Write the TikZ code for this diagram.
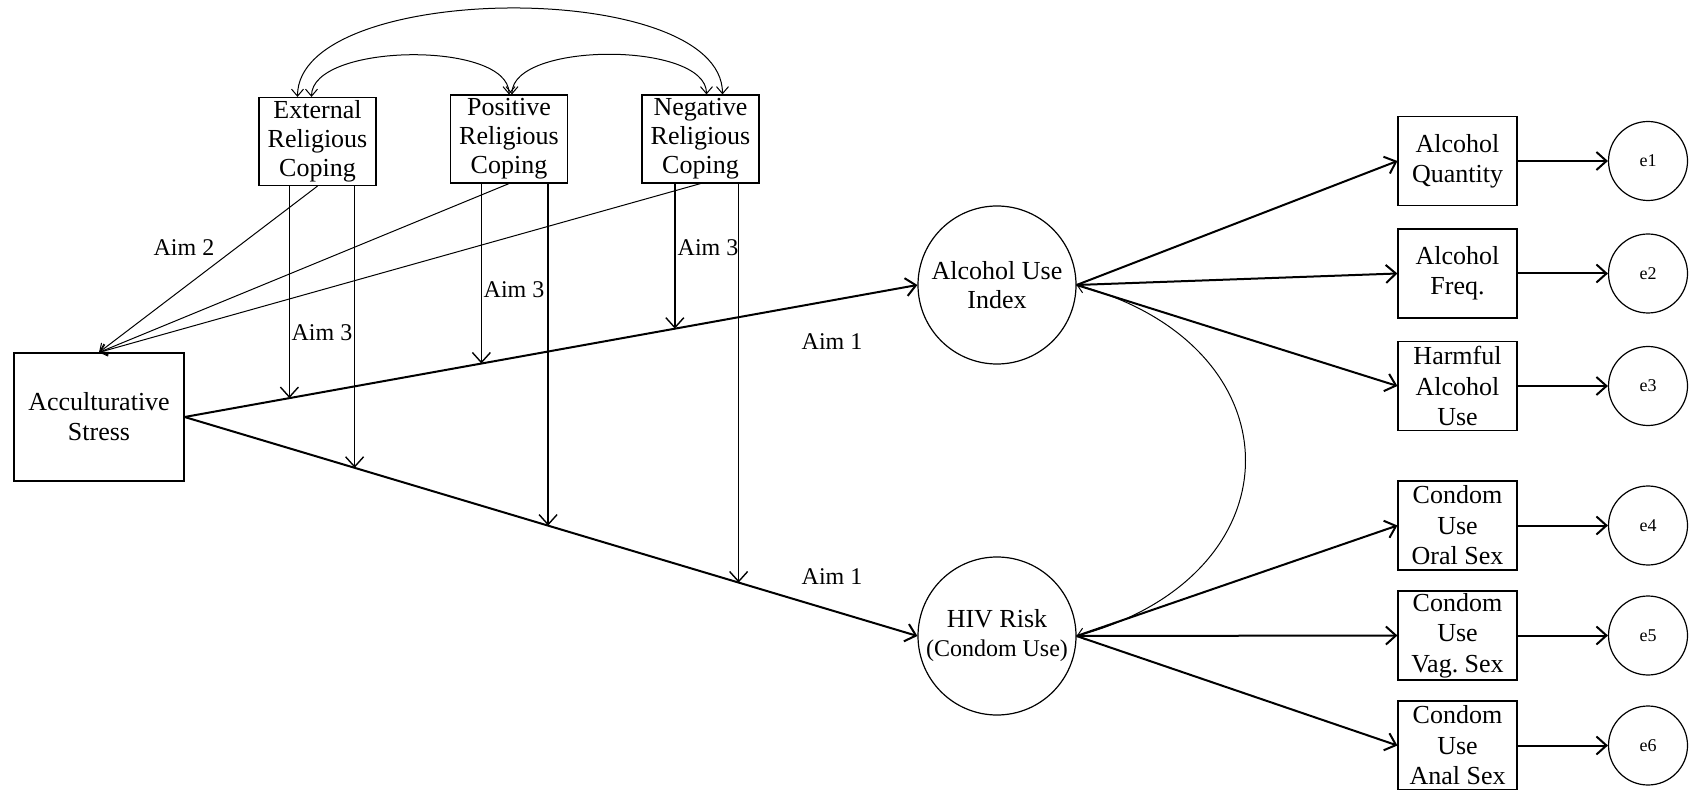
\documentclass[tikz,border=0pt]{standalone}
\usepackage{fontspec}
\setmainfont{Liberation Serif}
\usetikzlibrary{arrows.meta,calc}
\frenchspacing
\tikzstyle{obs}=[rectangle,draw,line width=0.6pt,align=center,inner sep=1pt,font=\fontsize{13}{14.5}\selectfont]
\tikzstyle{coping}=[obs,minimum width=58.5pt,minimum height=44pt]
\tikzstyle{indicator}=[obs,minimum width=59.5pt,minimum height=44.5pt,font=\fontsize{13}{15.2}\selectfont]
\tikzstyle{latent}=[circle,draw,line width=0.6pt,minimum size=79pt,inner sep=0pt,align=center,font=\fontsize{13}{14.5}\selectfont]
\tikzstyle{err}=[circle,draw,line width=0.6pt,minimum size=39.5pt,inner sep=0pt,font=\fontsize{9}{10}\selectfont]
\tikzstyle{edge} = [draw,line width=1pt,-{Straight Barb[length=5pt,width=9pt]}]
\tikzstyle{modedge} = [draw,line width=0.7pt,-{Straight Barb[length=5pt,width=9pt]}]
\tikzstyle{thinedge} = [draw,line width=0.5pt,-{Straight Barb[length=3.5pt,width=6pt]}]
\tikzstyle{covedge} = [draw,line width=0.5pt,{Straight Barb[length=3.5pt,width=6pt]}-{Straight Barb[length=3.5pt,width=6pt]}]
\tikzstyle{weight} = [font=\fontsize{12}{14}\selectfont]

\begin{document}
\begin{tikzpicture}[x=0.5pt, y=0.5pt]
    \useasboundingbox (0,0) rectangle (1690,-790);

    % First we draw the predictor and the coping boxes
    \node[obs,minimum width=85pt,minimum height=64pt,font=\fontsize{13}{15}\selectfont] (acc) at (99,-417) {Acculturative\\Stress};

    \foreach \pos/\name/\txt in {{(317.5,-141.5)/ext/{External\\Religious\\Coping}},
                                {(509,-139)/pos/{Positive\\Religious\\Coping}},
                                {(700.5,-139)/neg/{Negative\\Religious\\Coping}}}
        \node[coping] (\name) at \pos {\txt};

    % the two latent outcomes
    \node[latent] (alc) at (997,-285) {Alcohol Use\\Index};
    \node[latent] (hiv) at (997,-636) {HIV Risk\\{\fontsize{12}{14}\selectfont(Condom Use)}};

    % indicators and their errors
    \foreach \y/\name/\err/\txt in {161/qty/e1/{Alcohol\\Quantity},
                                   273.5/frq/e2/{Alcohol\\Freq.},
                                   386/harm/e3/{Harmful\\Alcohol\\Use},
                                   525.5/oral/e4/{Condom\\Use\\Oral Sex},
                                   635.5/vag/e5/{Condom\\Use\\Vag.\ Sex},
                                   745.5/anal/e6/{Condom\\Use\\Anal Sex}}
    {
        \node[indicator] (\name) at (1457.5,-\y) {\txt};
        \node[err] (\err) at (1648,-\y) {\err};
        \draw[edge] (\name.east) -- (\err.west);
    }

    \foreach \source/\dest in {alc/qty, alc/frq, alc/harm, hiv/oral, hiv/vag, hiv/anal}
        \path[edge] (\source.east) -- (\dest.west);

    % Aim 1 paths
    \path[edge] (acc.east) -- (alc.west);
    \path[edge] (acc.east) -- (hiv.west);
    \node[weight] at (832,-342) {Aim 1};
    \node[weight] at (832,-577) {Aim 1};

    % Aim 2 paths
    \foreach \source in {ext, pos, neg}
        \path[thinedge] (\source.south) -- (acc.north);
    \node[weight] at (184,-248) {Aim 2};

    % Aim 3: moderation arrows onto the paths
    \foreach \source/\up/\down in {ext/0.143/0.232, pos/0.405/0.496, neg/0.669/0.756}
    {
        \coordinate (\source-a) at ($(acc.east)!\up!(alc.west)$);
        \coordinate (\source-b) at ($(acc.east)!\down!(hiv.west)$);
        \path[modedge] (\source.south -| \source-a) -- (\source-a);
        \path[modedge] (\source.south -| \source-b) -- (\source-b);
    }
    \node[weight] at (322,-333) {Aim 3};
    \node[weight] at (514,-290) {Aim 3};
    \node[weight] at (708,-248) {Aim 3};

    % correlations
    \draw[covedge] ([xshift=-10pt]ext.north) to[out=90,in=90,looseness=0.7] ([xshift=11pt]neg.north);
    \draw[covedge] ([xshift=-3pt]ext.north) to[out=90,in=90,looseness=0.7] (pos.north);
    \draw[covedge] ([xshift=1.5pt]pos.north) to[out=90,in=90,looseness=0.7] ([xshift=3pt]neg.north);
    \draw[covedge] (alc.east) to[out=-15,in=15,looseness=1.7] (hiv.east);

\end{tikzpicture}
\end{document}
